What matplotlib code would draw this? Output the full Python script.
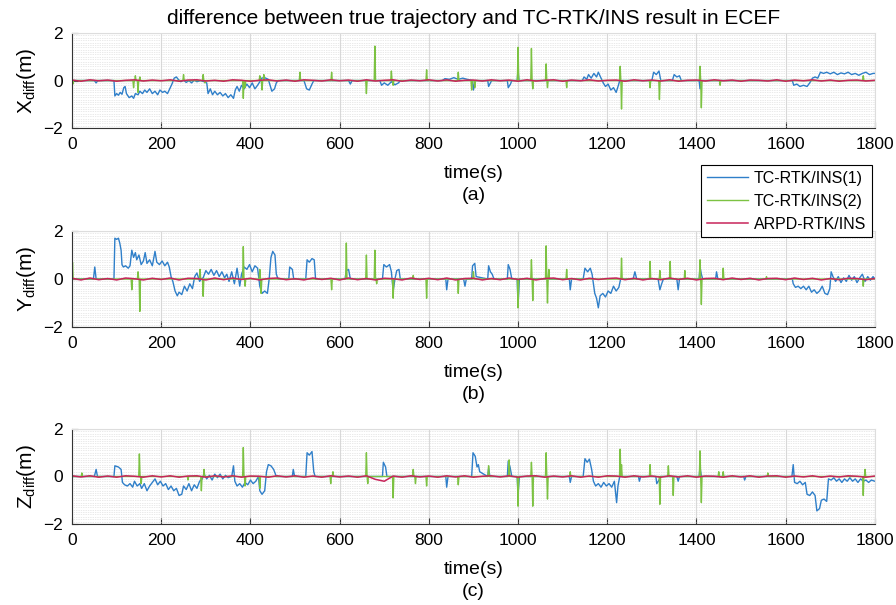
import numpy as np
import matplotlib
matplotlib.use("Agg")
import matplotlib.pyplot as plt
from matplotlib.ticker import MultipleLocator

plt.rcParams['font.family'] = ['Liberation Sans', 'DejaVu Sans']
plt.rcParams['mathtext.default'] = 'regular'

# colours (matlab-like)
C_BLUE = '#2f7fc9'
C_GREEN = '#7cc242'
C_RED = '#c8245a'

labels = ['TC-RTK/INS(1)', 'TC-RTK/INS(2)', 'ARPD-RTK/INS']
xticks = [0, 200, 400, 600, 800, 1000, 1200, 1400, 1600, 1800]
ylabels = ['X$_{diff}$(m)', 'Y$_{diff}$(m)', 'Z$_{diff}$(m)']
panel = ['(a)', '(b)', '(c)']

# ---- blue: TC-RTK/INS(1), (time, value) ----
blue_x = [(0,0),(50,0),(54,-0.1),(58,0),(94,0),(96,-0.65),(100,-0.55),(104,-0.62),(108,-0.5),(112,-0.58),
          (116,-0.3),(119,-0.25),(122,-0.55),(128,-0.72),(134,-0.65),(138,-0.75),(142,-0.55),(148,-0.6),
          (152,-0.45),(158,-0.55),(163,-0.4),(168,-0.5),(174,-0.35),(180,-0.55),(186,-0.45),(192,-0.6),
          (197,-0.4),(203,-0.5),(208,-0.45),(214,-0.55),(219,-0.35),(224,-0.15),(229,0.1),(234,0.15),
          (238,0.05),(244,-0.05),(250,0.02),(256,-0.08),(262,0),(268,-0.1),(274,0.02),(280,-0.05),(288,0),
          (296,-0.05),(302,-0.1),(305,-0.55),(310,-0.35),(315,-0.6),(320,-0.45),(326,-0.6),(332,-0.5),
          (338,-0.65),(344,-0.55),(350,-0.72),(356,-0.6),(362,-0.75),(366,-0.4),(370,-0.25),(375,-0.45),
          (380,-0.2),(386,-0.35),(392,-0.15),(398,-0.3),(404,-0.1),(410,-0.35),(416,-0.2),(421,-0.05),
          (425,0.1),(432,0.12),(440,0.05),(444,-0.2),(448,-0.45),(454,-0.35),(458,-0.1),(462,0),(520,0),
          (526,-0.35),(532,-0.4),(538,-0.15),(542,0),(620,0),(624,-0.15),(628,0),(690,0),(694,-0.2),
          (700,-0.1),(708,-0.2),(716,-0.05),(724,-0.18),(732,-0.1),(736,0),(830,0),(836,0.08),(846,0.05),
          (856,0.12),(866,0.05),(876,0.1),(886,0.05),(898,0),(900,-0.4),(904,0),(932,0),(934,-0.25),
          (938,-0.1),(941,0),(976,0),(978,-0.3),(983,-0.15),(986,0),(998,0),(1000,0.45),(1002,0),(1144,0),
          (1148,0.15),(1154,0.05),(1158,0.25),(1164,0.1),(1170,0.3),(1176,0.15),(1180,0.35),(1186,0.1),
          (1191,-0.1),(1196,-0.25),(1202,-0.15),(1208,-0.4),(1214,-0.3),(1220,-0.5),(1225,-0.2),(1228,0),
          (1300,0),(1304,0.35),(1310,0.25),(1316,0.4),(1320,0),(1346,0),(1350,0.25),(1356,0.15),(1362,0.2),
          (1366,0),(1406,0),(1408,-0.35),(1412,0),(1615,0),(1618,-0.2),(1625,-0.15),(1632,-0.25),
          (1640,-0.2),(1648,-0.25),(1654,-0.1),(1660,0.1),(1666,0.15),(1672,0.1),(1678,0.35),(1685,0.3),
          (1692,0.35),(1700,0.28),(1708,0.35),(1716,0.25),(1724,0.32),(1732,0.28),(1740,0.35),(1748,0.25),
          (1756,0.3),(1764,0.22),(1772,0.3),(1780,0.35),(1788,0.25),(1796,0.3),(1800,0.3)]

blue_y = [(0,0),(48,0),(51,0.5),(54,0),(94,0),(96,1.7),(100,1.65),(104,1.7),(107,1.5),(110,1.2),(112,0.6),
          (115,0.5),(120,0.55),(126,0.45),(130,0.55),(134,1.2),(138,0.9),(142,1.1),(145,0.8),(150,1.0),
          (155,0.6),(160,0.75),(164,1.1),(168,0.65),(174,0.8),(180,0.55),(186,1.15),(190,0.7),(196,0.6),
          (202,0.75),(208,0.55),(214,0.7),(218,0.5),(222,0.1),(226,-0.1),(231,-0.5),(236,-0.7),(240,-0.55),
          (246,-0.65),(252,-0.3),(258,-0.5),(264,-0.2),(270,-0.4),(275,0.1),(280,0.25),(286,-0.1),(290,0),
          (294,0.05),(300,0.35),(306,0.2),(312,0.4),(318,0.15),(324,0.35),(330,0.1),(336,0.3),(342,0.05),
          (347,0.2),(352,-0.1),(358,0.3),(364,-0.2),(370,0.45),(376,-0.3),(380,0.2),(386,0.5),(392,0.4),
          (398,0.6),(404,0.3),(410,0.55),(416,0.45),(421,-0.3),(426,-0.6),(432,-0.5),(438,-0.6),(442,0),
          (446,0.9),(450,1.15),(455,1.0),(458,0.2),(462,0),(486,0),(488,0.5),(494,0.4),(497,0),(524,0),
          (527,0.8),(532,0.7),(538,0.85),(543,0.8),(546,0),(612,0),(615,0.35),(620,0.4),(624,0),(696,0),
          (699,0.6),(705,0.5),(712,0.6),(716,0.3),(720,-0.5),(724,0),(728,0.35),(733,0.4),(736,0),(838,0),
          (840,-0.45),(843,0),(878,0),(881,-0.3),(884,0),(896,0),(898,0.55),(903,0.65),(906,0.1),(932,0),
          (934,0.55),(938,0.3),(942,0.2),(946,0),(976,0),(978,0.6),(982,0.4),(986,0),(998,0),(1000,-1.1),
          (1003,0),(1115,0),(1117,-0.45),(1120,0),(1146,0),(1150,0.45),(1156,0.3),(1162,0.45),(1166,0.2),
          (1169,-0.2),(1172,-0.6),(1176,-0.8),(1180,-1.2),(1184,-0.7),(1190,-0.6),(1196,-0.75),(1202,-0.5),
          (1208,-0.6),(1214,-0.3),(1220,-0.5),(1226,-0.35),(1230,0),(1258,0),(1262,0.3),(1266,0),(1314,0),
          (1318,-0.45),(1322,-0.2),(1326,0),(1356,0),(1359,-0.45),(1362,0),(1406,0),(1408,0.5),(1411,0.2),
          (1414,0),(1443,0),(1445,0.3),(1448,0),(1615,0),(1617,-0.2),(1622,-0.35),(1628,-0.3),(1634,-0.4),
          (1640,-0.3),(1646,-0.45),(1652,-0.3),(1658,-0.55),(1664,-0.45),(1670,-0.6),(1676,-0.5),
          (1682,-0.3),(1688,-0.6),(1694,-0.65),(1699,-0.4),(1702,0.3),(1706,0.1),(1712,-0.1),(1718,0.1),
          (1724,-0.15),(1730,0.05),(1736,-0.1),(1742,0.15),(1748,-0.05),(1754,0.1),(1760,-0.15),(1766,0.05),
          (1772,0.2),(1778,-0.1),(1784,0.1),(1790,-0.05),(1796,0.1),(1800,0)]

blue_z = [(0,0),(50,0),(54,0.3),(57,0),(94,0),(96,0.45),(104,0.4),(110,0.3),(113,-0.25),(118,-0.35),
          (124,-0.4),(130,-0.3),(136,-0.45),(140,-0.2),(146,-0.4),(152,-0.3),(156,-0.5),(162,-0.3),
          (168,-0.6),(174,-0.4),(180,-0.25),(186,-0.1),(192,-0.35),(198,-0.2),(204,-0.4),(210,-0.3),
          (216,-0.55),(222,-0.4),(228,-0.6),(234,-0.5),(240,-0.8),(246,-0.75),(250,-0.4),(256,-0.55),
          (262,-0.3),(268,-0.6),(274,-0.35),(280,-0.5),(286,-0.2),(292,-0.1),(296,0.1),(302,-0.1),(308,0.05),
          (314,-0.15),(320,0.1),(326,-0.05),(332,0.1),(338,-0.1),(344,0.05),(350,-0.05),(358,0),(362,0.45),
          (365,-0.2),(370,-0.4),(376,-0.3),(382,-0.45),(388,-0.25),(394,-0.35),(400,-0.15),(406,-0.3),
          (412,-0.2),(418,0),(421,-0.6),(426,-0.75),(432,-0.6),(436,0.2),(440,0.5),(446,0.45),(452,0.3),
          (458,0),(494,0),(496,0.3),(499,0),(524,0),(527,1.0),(532,0.9),(538,1.05),(542,0.2),(545,0),(696,0),
          (698,0.6),(703,0.4),(706,0),(838,0),(840,-0.45),(843,0),(896,0),(899,1.0),(904,0.85),(908,0.4),
          (911,0.5),(914,0.2),(932,0),(934,0.35),(937,0),(976,0),(978,0.65),(982,0.4),(986,0),(998,0),
          (1000,-0.75),(1003,0),(1115,0),(1117,-0.25),(1120,0),(1146,0),(1150,0.75),(1155,0.6),(1160,0.73),
          (1165,0.3),(1169,-0.2),(1174,-0.4),(1180,-0.3),(1186,-0.45),(1192,-0.25),(1198,-0.4),(1204,-0.3),
          (1210,-0.45),(1216,-0.2),(1221,-1.1),(1224,-0.4),(1228,0),(1270,0),(1272,-0.2),(1275,0),(1309,0),
          (1311,-0.3),(1316,-0.15),(1319,0),(1356,0),(1359,-0.2),(1362,0),(1406,0),(1408,0.4),(1411,0),
          (1506,0),(1508,-0.15),(1511,0),(1614,0),(1617,0.5),(1620,-0.25),(1626,-0.3),(1632,-0.2),
          (1638,-0.35),(1644,-0.25),(1648,-0.75),(1654,-0.8),(1660,-0.65),(1666,-0.8),(1670,-1.45),
          (1676,-1.35),(1680,-1.0),(1686,-0.95),(1692,-1.05),(1696,-0.1),(1702,-0.15),(1708,-0.05),
          (1714,-0.2),(1720,-0.1),(1726,-0.25),(1732,-0.1),(1738,-0.2),(1744,-0.05),(1750,-0.2),(1756,-0.1),
          (1762,-0.25),(1768,-0.1),(1774,-0.2),(1780,-0.15),(1786,-0.25),(1792,-0.15),(1800,-0.2)]

# ---- green: TC-RTK/INS(2), mostly zero with spikes (time, value) ----
green_x = [(2,-0.15),(138,-0.3),(142,0.2),(148,-0.5),(152,0.15),(250,0.25),(294,0.25),(298,-0.1),
           (384,-0.75),(388,-0.3),(421,0.2),(426,-0.4),(430,0.25),(511,0.35),(582,0.35),(660,-0.55),
           (679,1.45),(716,0.4),(720,-0.2),(795,0.45),(866,0.35),(896,-0.4),(903,-0.3),(1000,1.4),
           (1030,1.35),(1033,-0.35),(1063,0.7),(1066,-0.3),(1109,-0.3),(1229,0.6),(1232,-1.2),(1296,-0.3),
           (1317,-0.8),(1408,0.6),(1411,-1.15),(1453,-0.2),(1774,0.2)]

green_y = [(1,0.7),(134,-0.45),(148,0.3),(152,-1.35),(287,0.4),(294,-0.72),(384,1.35),(388,-0.3),
           (421,0.4),(424,-0.6),(582,-0.45),(615,1.5),(660,1.0),(679,1.2),(683,-0.2),(720,-0.8),
           (765,0.15),(795,-0.8),(866,-0.6),(900,0.3),(1000,-1.2),(1030,0.8),(1033,-0.9),(1063,1.38),
           (1066,-1.0),(1069,0.4),(1109,0.4),(1232,0.87),(1296,0.73),(1318,0.35),(1341,0.73),(1374,0.35),
           (1408,0.8),(1411,-1.06),(1460,0.45),(1557,0.1),(1774,-0.3)]

green_z = [(22,0.15),(151,0.95),(155,-0.3),(260,-0.15),(290,-0.6),(296,0.3),(384,1.22),(388,-0.4),
           (421,-0.5),(580,-0.3),(585,0.2),(660,1.0),(663,-0.3),(720,-0.9),(765,0.3),(770,-0.3),
           (795,-0.4),(866,-0.35),(934,0.45),(980,0.7),(1000,-1.25),(1030,0.6),(1033,-1.25),(1063,1.0),
           (1066,-0.95),(1117,0.2),(1229,1.15),(1232,0.5),(1296,0.5),(1318,-1.17),(1337,0.45),(1348,-0.8),
           (1408,1.08),(1411,-1.1),(1450,0.2),(1460,0.2),(1560,0.15),(1774,-0.8),(1778,0.3)]

# ---- red: ARPD-RTK/INS, small jitter around zero (evenly spaced samples) ----
red_x = [0.02,-0.03,0.03,-0.01,0.02,-0.03,0.01,0.03,-0.02,0.02,-0.01,0.03,-0.03,
         0.02,0.03,-0.02,0.01,-0.03,0.03,0.01,-0.03,0.01,0.03,-0.02,0.02,-0.03,
         0.03,0.01,-0.02,0.03,-0.01,0.02,-0.03,0.03,-0.02,0.01,0.03,-0.03,0.02,
         -0.01,0.03,-0.02,0.03,-0.03,0.01,0.02,-0.02,0.03,-0.01,0.02,-0.03,0.03,
         -0.02,0.01,0.03,-0.03,0.02,-0.01,0.03,-0.02,0.01,0.02,-0.03,0.03,-0.01,
         0.02,-0.02,0.03,-0.03,0.01,0.02,-0.02,0.03,-0.01,0.02,-0.03,0.02,0.01,
         -0.02,0.03,-0.03,0.02,-0.01,0.03,-0.02,0.02,-0.03,0.01,0.02,-0.02,0.01]
red_y = [0.03,-0.04,0.04,-0.03,0.02,-0.04,0.04,0.01,-0.04,0.03,-0.02,0.04,-0.04,
         0.03,0.02,-0.04,0.04,-0.03,0.04,-0.02,0.03,-0.04,0.02,0.04,-0.03,0.01,
         -0.04,0.04,-0.02,0.03,-0.04,0.04,-0.03,0.02,-0.04,0.03,0.01,-0.04,0.04,
         -0.02,0.03,-0.03,0.04,-0.04,0.02,0.03,-0.04,0.02,-0.03,0.04,-0.02,0.03,
         -0.04,0.02,0.04,-0.03,0.02,-0.04,0.03,-0.02,0.02,0.04,-0.03,0.03,-0.04,
         0.02,-0.03,0.04,-0.02,0.03,-0.04,0.02,0.03,-0.03,0.04,-0.02,0.03,-0.04,
         0.02,0.03,-0.03,0.04,-0.02,0.03,-0.04,0.02,-0.03,0.03,0.02,-0.03,0.02]
red_z = [0.03,-0.02,0.03,-0.03,0.02,-0.03,0.03,0.01,-0.03,0.03,-0.02,0.03,-0.03,
         0.02,0.03,-0.03,0.03,-0.02,0.03,-0.03,0.02,0.01,-0.03,0.03,-0.02,0.03,
         -0.03,0.02,-0.03,0.03,-0.02,0.02,-0.03,0.03,-0.12,-0.2,0.02,-0.03,0.03,
         -0.02,0.02,-0.03,0.03,-0.02,0.03,-0.03,0.01,0.03,-0.02,0.03,-0.03,0.02,
         0.03,-0.03,0.02,-0.02,0.03,-0.03,0.02,-0.03,0.03,0.02,-0.03,0.03,-0.02,
         0.02,-0.03,0.03,-0.02,0.03,-0.03,0.02,0.01,-0.03,0.03,-0.02,0.03,-0.03,
         0.02,0.03,-0.03,0.02,-0.02,0.03,-0.03,0.02,-0.02,0.03,0.01,-0.03,0.02]

blues = [blue_x, blue_y, blue_z]
greens = [green_x, green_y, green_z]
reds = [red_x, red_y, red_z]


def spikes(pts, w=1.5):
    # turn spike list into a polyline that returns to zero between spikes
    xs, ys = [0], [0]
    for t, v in pts:
        xs += [t - w, t, t + w]
        ys += [0, v, 0]
    xs.append(1800)
    ys.append(0)
    order = np.argsort(xs, kind='stable')
    return np.array(xs)[order], np.array(ys)[order]


fig = plt.figure(figsize=(8.96, 6.05), dpi=100)
boxes = [[0.0804, 0.7884, 0.896, 0.157],
         [0.0804, 0.4595, 0.896, 0.1587],
         [0.0804, 0.1339, 0.896, 0.157]]

handles = None
for i in range(3):
    ax = fig.add_axes(boxes[i])
    bt = [p[0] for p in blues[i]]
    bv = [p[1] for p in blues[i]]
    h1, = ax.plot(bt, bv, color=C_BLUE, lw=1.0)
    gt, gv = spikes(greens[i])
    h2, = ax.plot(gt, gv, color=C_GREEN, lw=1.0)
    rt = np.linspace(0, 1800, len(reds[i]))
    h3, = ax.plot(rt, reds[i], color=C_RED, lw=1.1)
    handles = [h1, h2, h3]

    ax.set_xlim(0, 1800)
    ax.set_ylim(-2, 2)
    ax.set_xticks(xticks)
    ax.set_yticks([-2, 0, 2])
    ax.yaxis.set_minor_locator(MultipleLocator(0.1))
    ax.grid(True, which='major', axis='x', color='#d9d9d9', lw=0.8)
    ax.grid(True, which='major', axis='y', color='#d9d9d9', lw=0.8)
    ax.grid(True, which='minor', axis='y', color='#d4d4d4', lw=0.5, ls=(0, (1, 1.5)))
    ax.set_axisbelow(True)
    ax.tick_params(direction='in', labelsize=12.5, length=4, color='#333333', pad=6.5)
    ax.tick_params(which='minor', length=0)
    for s in ['top', 'right']:
        ax.spines[s].set_color('#dddddd')
    for s in ['left', 'bottom']:
        ax.spines[s].set_color('#333333')
    ax.set_xlabel('time(s)\n' + panel[i], fontsize=14, labelpad=9, linespacing=1.45)
    ax.set_ylabel(ylabels[i], fontsize=15, labelpad=4)

fig.text(0.528, 0.969, 'difference between true trajectory and TC-RTK/INS result in ECEF',
         ha='center', va='center', fontsize=15)

leg = fig.legend(handles, labels, loc='upper right', bbox_to_anchor=(0.973, 0.727),
                 fontsize=11.5, frameon=True, fancybox=False, handlelength=2.6,
                 borderpad=0.35, labelspacing=0.5, handletextpad=0.35, borderaxespad=0)
leg.get_frame().set_edgecolor('black')
leg.get_frame().set_linewidth(0.8)
leg.get_frame().set_alpha(1)

fig.savefig('out.png', dpi=100)
